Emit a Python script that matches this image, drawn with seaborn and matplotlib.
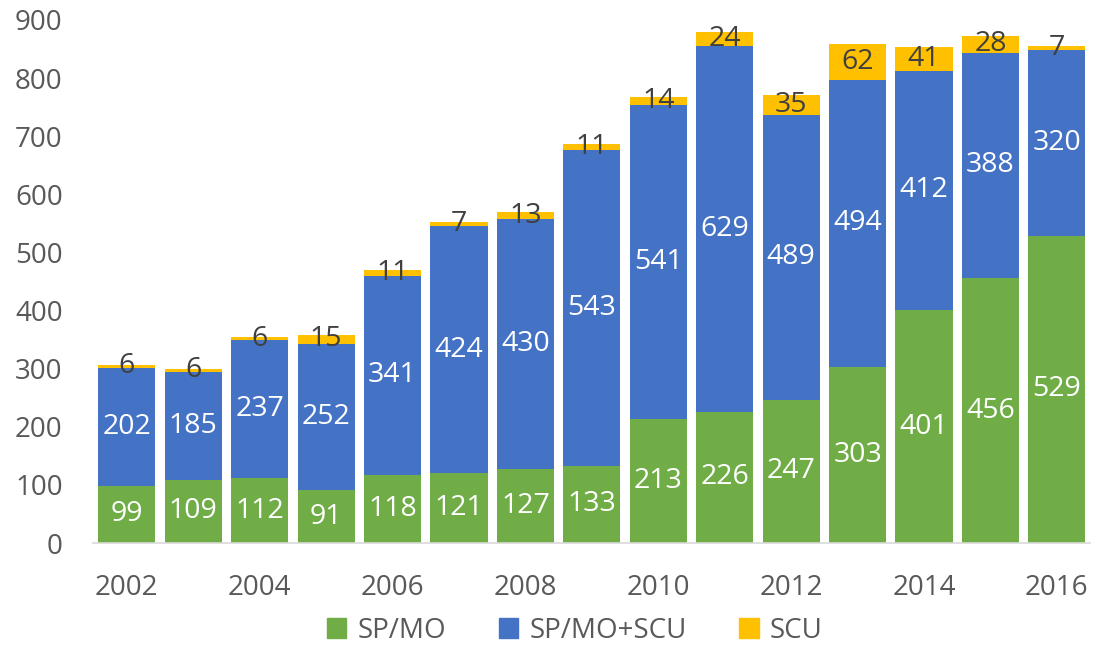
import numpy as np
import pandas as pd
import matplotlib
matplotlib.use("Agg")
import matplotlib.pyplot as plt
import seaborn as sns

years = list(range(2002, 2017))
sp_mo = [99, 109, 112, 91, 118, 121, 127, 133, 213, 226, 247, 303, 401, 456, 529]
sp_mo_scu = [202, 185, 237, 252, 341, 424, 430, 543, 541, 629, 489, 494, 412, 388, 320]
scu = [6, 6, 6, 15, 11, 7, 13, 11, 14, 24, 35, 62, 41, 28, 7]

series_names = ["SP/MO", "SP/MO+SCU", "SCU"]
colors = ["#70AD47", "#4472C4", "#FFC000"]

sns.set_style("white")
plt.rcParams["font.family"] = ["Open Sans", "DejaVu Sans"]

df = pd.DataFrame({"year": [str(y) for y in years], "SP/MO": sp_mo,
                   "SP/MO+SCU": sp_mo_scu, "SCU": scu})

fig, ax = plt.subplots(figsize=(10.97, 6.45), dpi=100)
fig.subplots_adjust(left=0.085, right=0.994, top=0.969, bottom=0.158)

bottom = np.zeros(len(years))
for name, col in zip(series_names, colors):
    sns.barplot(data=df, x="year", y=name, color=col, bottom=bottom,
                width=0.86, ax=ax, saturation=1, linewidth=0, edgecolor="none")
    vals = df[name].values
    txt_col = "#404040" if name == "SCU" else "white"
    for i, v in enumerate(vals):
        ax.text(i, bottom[i] + v / 2, str(v), ha="center", va="center",
                fontsize=20.5, color=txt_col)
    bottom = bottom + vals

ax.set_ylim(0, 900)
ax.set_yticks(range(0, 901, 100))
ax.set_xlim(-0.505, 14.505)
ax.set_xticks(range(0, 15, 2))
ax.set_xticklabels([str(y) for y in years[::2]])
ax.set_xlabel("")
ax.set_ylabel("")
ax.tick_params(axis="both", labelsize=20, colors="#595959", length=0)
ax.tick_params(axis="y", pad=22)
ax.tick_params(axis="x", pad=22)
for s in ["top", "right", "left"]:
    ax.spines[s].set_visible(False)
ax.spines["bottom"].set_color("#D9D9D9")
ax.spines["bottom"].set_linewidth(1.2)

handles = [plt.Rectangle((0, 0), 1, 1, color=c) for c in colors]
fig.legend(handles, series_names, loc="center", ncol=3, frameon=False,
           fontsize=20, handlelength=0.7, handleheight=0.7, columnspacing=1.9,
           handletextpad=0.4, bbox_to_anchor=(0.524, 0.022), labelcolor="#595959")

fig.savefig("out.png", dpi=100)
